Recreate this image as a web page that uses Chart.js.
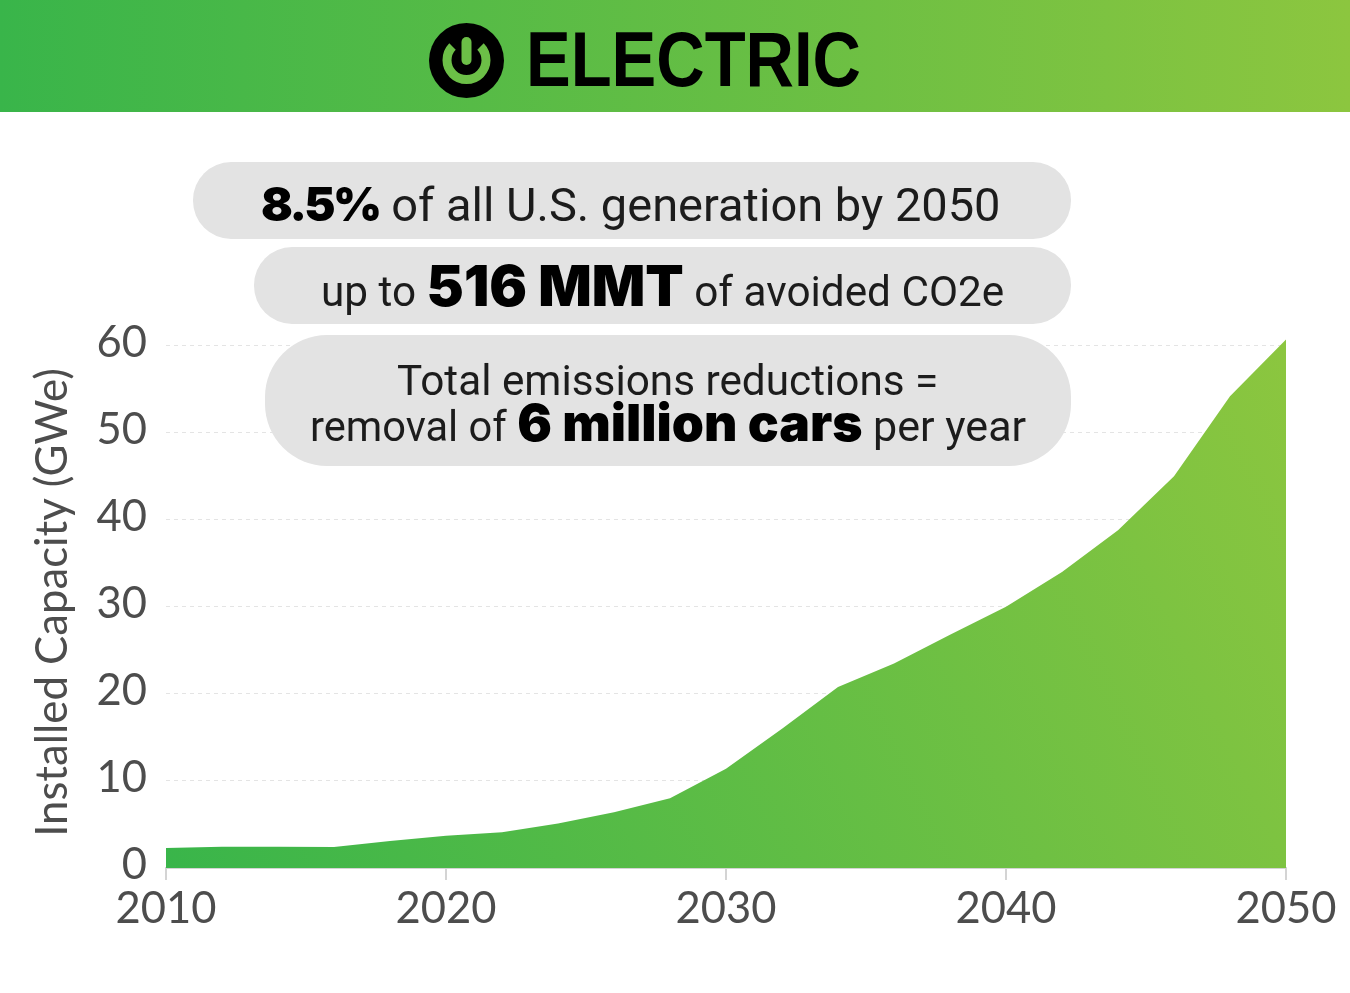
<!DOCTYPE html>
<html>
<head>
<meta charset="utf-8">
<title>Electric</title>
<script src="https://cdn.jsdelivr.net/npm/chart.js@4"></script>
<style>
  html, body { margin: 0; padding: 0; background: #fff; }
  #page { position: relative; width: 1350px; height: 993px; overflow: hidden; font-family: Roboto, sans-serif; color: #1c1c1c; }
  #chart { position: absolute; left: 0; top: 0; }
  #header { position: absolute; left: 0; top: 0; width: 1350px; height: 112px; background: linear-gradient(90deg, #39b54a, #8cc63f); }
  #icon { position: absolute; left: 429px; top: 23px; }
  #title { position: absolute; left: 526px; top: 14px; font: bold 77px/90px "Liberation Sans", sans-serif; color: #000; transform: scaleX(.87); transform-origin: left top; white-space: nowrap; }
  .pill { position: absolute; background: #e3e3e3; white-space: nowrap; }
  .line { position: absolute; white-space: nowrap; font-size: 42.3px; line-height: 60px; font-weight: 400; }
  .line b { font-family: Inter, sans-serif; font-weight: 900; color: #000; }
</style>
</head>
<body>
<div id="page">
  <canvas id="chart" width="1350" height="993"></canvas>
  <div id="header">
    <svg id="icon" width="75" height="75" viewBox="0 0 75 75">
      <circle cx="37.5" cy="37.5" r="37.5" fill="#000"/>
      <path d="M23.5 23.5 A 19.5 19.5 0 1 0 51.5 23.5" fill="none" stroke="#6cbf47" stroke-width="9"/>
      <line x1="37.5" y1="19" x2="37.5" y2="37" stroke="#6cbf47" stroke-width="10" stroke-linecap="round"/>
    </svg>
    <div id="title">ELECTRIC</div>
  </div>
  <div class="pill" style="left:193px;top:162px;width:878px;height:77px;border-radius:38px"></div>
  <div class="pill" style="left:254px;top:247px;width:817px;height:77px;border-radius:38px"></div>
  <div class="pill" style="left:265px;top:335px;width:806px;height:131px;border-radius:62px"></div>
  <div class="line" style="left:261px;top:174px;font-size:47px"><b style="font-size:47px;letter-spacing:-2.6px">8.5%</b> of all U.S. generation by 2050</div>
  <div class="line" style="left:321px;top:256px"><span>up to</span> <b style="font-size:56px">516 MMT</b> of avoided CO2e</div>
  <div class="line" style="left:397px;top:351px">Total emissions reductions =</div>
  <div class="line" style="left:310px;top:392px"><span style="font-size:41.6px">removal of</span> <b style="font-size:51.5px">6 million cars</b> <span style="font-size:43px">per year</span></div>
</div>
<script>
const years = [2010, 2012, 2014, 2016, 2018, 2020, 2022, 2024, 2026, 2028, 2030,
  2032, 2034, 2036, 2038, 2040, 2042, 2044, 2046, 2048, 2050];
const capacity = [2.3, 2.45, 2.45, 2.4, 3.1, 3.7, 4.1, 5.1, 6.4, 8.0, 11.4,
  16.0, 20.8, 23.5, 26.8, 30.0, 34.0, 38.8, 45.0, 54.2, 60.7];
const axisColor = "#4d4d4d";

const ctx = document.getElementById("chart").getContext("2d");

// diagonal fill, the plot runs dark green lower left to yellow green upper right
const fill = ctx.createLinearGradient(166, 868, 1286, 340);
fill.addColorStop(0, "#39b54a");
fill.addColorStop(1, "#8cc63f");

new Chart(ctx, {
  type: "line",
  data: {
    datasets: [{
      data: years.map((y, i) => ({ x: y, y: capacity[i] })),
      fill: "origin",
      backgroundColor: fill,
      borderWidth: 0,
      pointRadius: 0,
      tension: 0
    }]
  },
  options: {
    responsive: false,
    animation: false,
    layout: { padding: { left: 27, right: 64, top: 337, bottom: 0 } },
    plugins: { legend: { display: false }, tooltip: { enabled: false } },
    scales: {
      x: {
        type: "linear",
        min: 2010,
        max: 2050,
        afterFit: s => { s.height = 125; },
        border: { color: "#d4d4d4", width: 2 },
        grid: { drawOnChartArea: false, color: "#d4d4d4", lineWidth: 2, tickLength: 12 },
        ticks: {
          stepSize: 10,
          maxRotation: 0,
          padding: 3,
          color: axisColor,
          font: { family: "Lato", size: 43.5 },
          callback: v => String(v)
        }
      },
      y: {
        min: 0,
        max: 61,
        afterFit: s => { s.width = 139; },
        border: { display: false, dash: [4, 4] },
        grid: { color: "#e4e4e4", lineWidth: 1, drawTicks: false },
        title: {
          display: true,
          text: "Installed Capacity (GWe)",
          color: axisColor,
          padding: 0,
          font: { family: "Lato", size: 43.7 }
        },
        ticks: {
          stepSize: 10,
          includeBounds: false,
          padding: 19,
          color: axisColor,
          // the empty second line lifts each label a few px above its gridline
          font: { family: "Lato", size: 43.5, lineHeight: 0.14 },
          callback: v => [String(v), ""]
        }
      }
    }
  }
});
</script>
</body>
</html>
